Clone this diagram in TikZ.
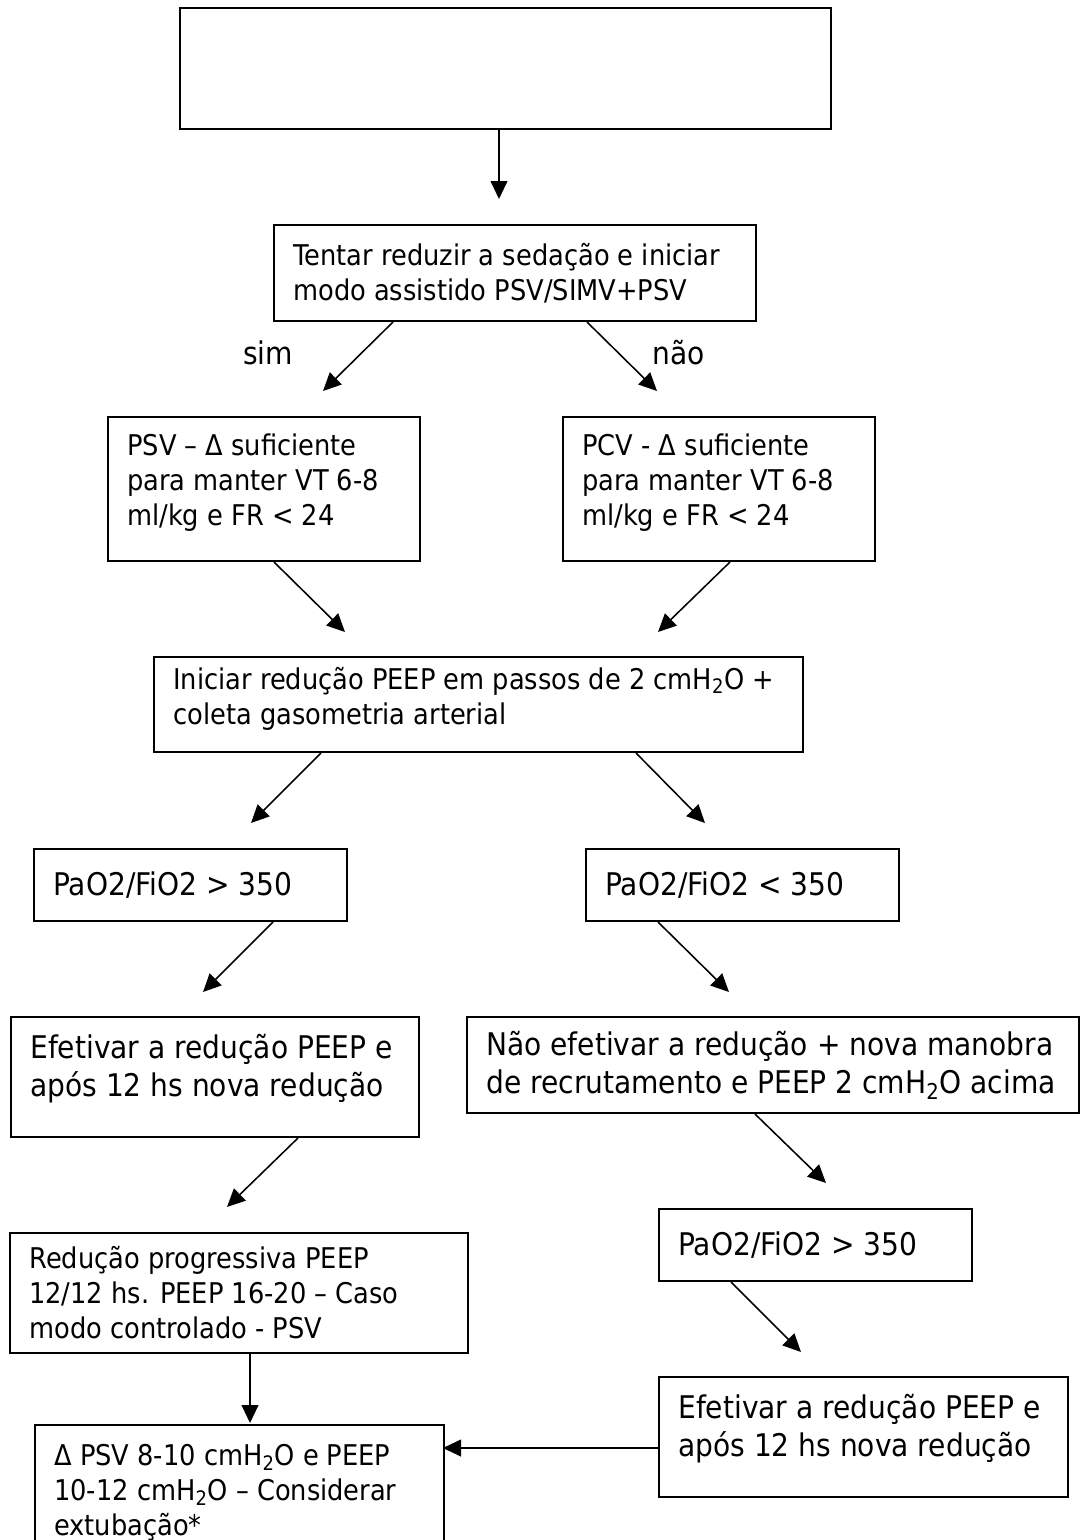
\documentclass[tikz,border=0pt]{standalone}
\usepackage{fontspec}
\setmainfont{DejaVu Sans}[FakeStretch=0.9]
\usetikzlibrary{arrows.meta}

\tikzset{
	caixa/.style={draw, line width=1.4pt, inner sep=0pt, anchor=north west},
	texto/.style={anchor=west, inner xsep=0.5cm, inner ysep=0pt, align=left},
	pequeno/.style={font=\fontsize{20.3pt}{24.9pt}\selectfont},
	grande/.style={font=\fontsize{22.2pt}{27pt}\selectfont},
	seta/.style={line width=1.1pt, -{Triangle[length=0.45cm, width=0.42cm]}}
}

\begin{document}
\begin{tikzpicture}[x=0.025cm, y=-0.025cm]
	\useasboundingbox (0,0) rectangle (1080,1540);
	\clip (0,0) rectangle (1080,1540);

	\node[caixa, minimum width=16.275cm, minimum height=3.025cm] (inicio) at (179,7) {};
	\node[caixa, minimum width=12.05cm, minimum height=2.4cm,
		label={[texto, pequeno]west:{Tentar reduzir a sedação e iniciar\\modo assistido PSV/SIMV+PSV}}] (tentar) at (273,224) {};
	\node[grande] (sim) at (268,353) {sim};
	\node[grande] (nao) at (679,353) {não};
	\node[caixa, minimum width=7.8cm, minimum height=3.6cm,
		label={[texto, pequeno, yshift=0.15cm]west:{PSV – Δ suficiente\\para manter VT 6-8\\ml/kg e FR < 24}}] (psv) at (107,416) {};
	\node[caixa, minimum width=7.8cm, minimum height=3.6cm,
		label={[texto, pequeno, yshift=0.15cm]west:{PCV - Δ suficiente\\para manter VT 6-8\\ml/kg e FR < 24}}] (pcv) at (562,416) {};
	\node[caixa, minimum width=16.225cm, minimum height=2.375cm,
		label={[texto, pequeno, yshift=0.15cm]west:{Iniciar redução PEEP em passos de 2 cmH\textsubscript{2}O +\\coleta gasometria arterial}}] (iniciar) at (153,656) {};
	\node[caixa, minimum width=7.825cm, minimum height=1.8cm,
		label={[texto, grande]west:{PaO2/FiO2 > 350}}] (paoA) at (33,848) {};
	\node[caixa, minimum width=7.825cm, minimum height=1.8cm,
		label={[texto, grande]west:{PaO2/FiO2 < 350}}] (paoB) at (585,848) {};
	\node[caixa, minimum width=10.2cm, minimum height=3cm,
		label={[texto, grande, yshift=0.22cm]west:{Efetivar a redução PEEP e\\após 12 hs nova redução}}] (efetA) at (10,1016) {};
	\node[caixa, minimum width=15.3cm, minimum height=2.4cm,
		label={[texto, grande]west:{Não efetivar a redução + nova manobra\\de recrutamento e PEEP 2 cmH\textsubscript{2}O acima}}] (naoef) at (466,1016) {};
	\node[caixa, minimum width=7.825cm, minimum height=1.8cm,
		label={[texto, grande]west:{PaO2/FiO2 > 350}}] (paoC) at (658,1208) {};
	\node[caixa, minimum width=11.45cm, minimum height=3cm,
		label={[texto, pequeno]west:{Redução progressiva PEEP\\12/12 hs. PEEP 16-20 – Caso\\modo controlado - PSV}}] (reducao) at (9,1232) {};
	\node[caixa, minimum width=10.225cm, minimum height=3cm,
		label={[texto, grande, yshift=0.22cm]west:{Efetivar a redução PEEP e\\após 12 hs nova redução}}] (efetB) at (658,1376) {};
	\node[caixa, minimum width=10.225cm, minimum height=3.4cm,
		label={[texto, pequeno]west:{Δ PSV 8-10 cmH\textsubscript{2}O e PEEP\\10-12 cmH\textsubscript{2}O – Considerar\\extubação*}}] (delta) at (34,1424) {};

	\coordinate (p1) at (499,199);
	\coordinate (p2) at (323,391);
	\coordinate (p3) at (657,391);
	\coordinate (p4) at (345,632);
	\coordinate (p5) at (658,632);
	\coordinate (p6) at (251,823);
	\coordinate (p7) at (705,823);
	\coordinate (p8) at (203,992);
	\coordinate (p9) at (729,992);
	\coordinate (p10) at (227,1207);
	\coordinate (p11) at (826,1183);
	\coordinate (p12) at (801,1352);
	\coordinate (p13) at (250,1423);
	\coordinate (p14) at (443,1448);

	\draw[seta] (inicio.south -| 499,0) -- (p1);
	\draw[seta] (tentar.south -| 393,0) -- (p2);
	\draw[seta] (tentar.south -| 587,0) -- (p3);
	\draw[seta] (psv.south -| 274,0) -- (p4);
	\draw[seta] (pcv.south -| 730,0) -- (p5);
	\draw[seta] (iniciar.south -| 321,0) -- (p6);
	\draw[seta] (iniciar.south -| 636,0) -- (p7);
	\draw[seta] (paoA.south -| 273,0) -- (p8);
	\draw[seta] (paoB.south -| 658,0) -- (p9);
	\draw[seta] (efetA.south -| 298,0) -- (p10);
	\draw[seta] (naoef.south -| 755,0) -- (p11);
	\draw[seta] (paoC.south -| 731,0) -- (p12);
	\draw[seta] (reducao.south -| p13) -- (p13);
	\draw[seta] (efetB.west |- p14) -- (p14);
\end{tikzpicture}
\end{document}
